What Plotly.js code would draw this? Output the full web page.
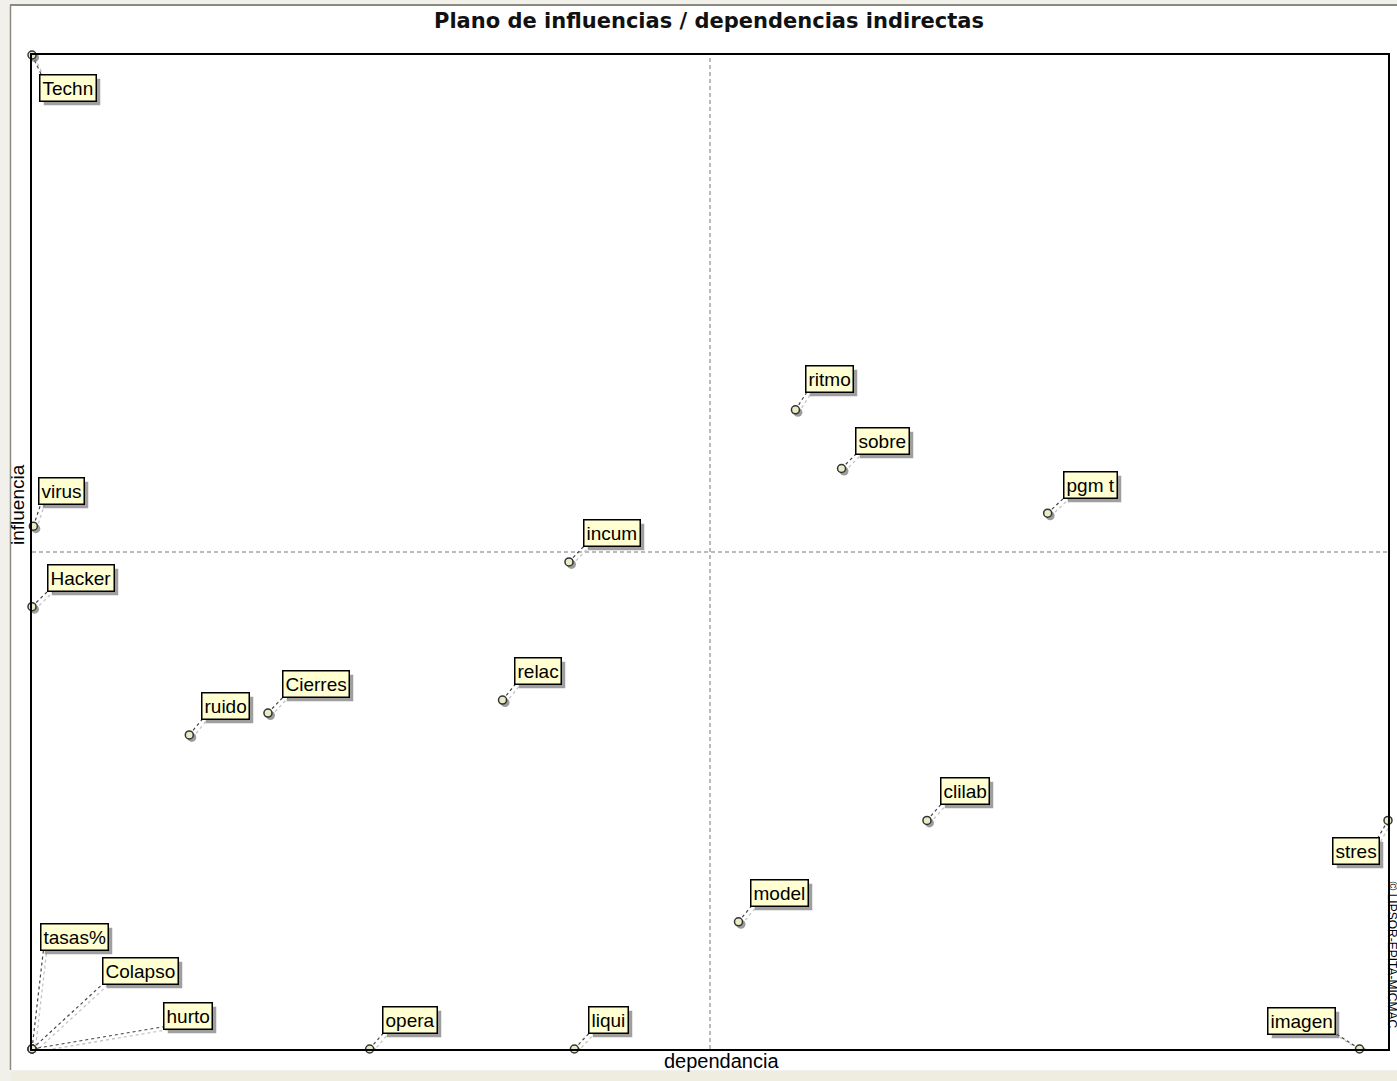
<!DOCTYPE html>
<html>
<head>
<meta charset="utf-8">
<script src="https://cdn.plot.ly/plotly-3.0.1.min.js"></script>
<style>html,body{margin:0;padding:0;background:#fff;}#chart{width:1397px;height:1081px;}</style>
</head>
<body>
<div id="chart"></div>
<script>
// Data: dependance (x) and influence (y), 0..100 scale
const names = ["Techn","virus","Hacker","ruido","Cierres","relac","incum","ritmo","sobre","pgm t","clilab","model","stres","imagen","liqui","opera","tasas%","Colapso","hurto"];
const dependencia = [0, 0.1, 0, 11.6, 17.4, 34.7, 39.6, 56.3, 59.7, 74.9, 66.0, 52.1, 100, 97.9, 40.0, 24.9, 0, 0, 0];
const influencia = [100, 52.6, 44.5, 31.6, 33.8, 35.1, 49.0, 64.3, 58.4, 53.9, 23.0, 12.8, 23.0, 0, 0, 0, 0, 0, 0];
// label placement offsets (pixels) relative to each point
const labelDx = [36, 28.5, 49, 36.5, 48, 35.5, 43, 34, 41, 42.5, 38.5, 41.5, -32, -58.5, 34, 40, 42.5, 108.5, 155.5];
const labelDy = [33, -35.5, -28.5, -28.5, -29, -29.5, -28.5, -30.5, -27.5, -28, -29.5, -28.5, 30.5, -28, -29, -29.5, -112, -78, -33];

const W = 1397, H = 1081;
const mL = 32, mR = 9, mT = 55, mB = 32;
const pw = W - mL - mR, ph = H - mT - mB;
const px = v => (v - mL) / pw;
const py = v => (H - mB - v) / ph;

const FONT = "Liberation Sans, Arial, sans-serif";

const annotations = [];
const shapes = [];

// background frame pieces
shapes.push({type:'rect', xref:'paper', yref:'paper', x0:px(0), x1:px(W), y0:py(0), y1:py(H), fillcolor:'#f1f0ea', line:{width:0}, layer:'below'});
shapes.push({type:'rect', xref:'paper', yref:'paper', x0:px(11), x1:px(W), y0:py(6), y1:py(1070), fillcolor:'#ffffff', line:{width:0}, layer:'below'});
shapes.push({type:'line', xref:'paper', yref:'paper', x0:px(10), x1:px(W), y0:py(5), y1:py(5), line:{color:'#8a8a80', width:2}, layer:'below'});
shapes.push({type:'line', xref:'paper', yref:'paper', x0:px(10.5), x1:px(10.5), y0:py(5), y1:py(1070), line:{color:'#8a8a80', width:1.5}, layer:'below'});
shapes.push({type:'rect', xref:'paper', yref:'paper', x0:px(11), x1:px(W), y0:py(1071), y1:py(H), fillcolor:'#efece0', line:{width:0}, layer:'below'});

// midlines
shapes.push({type:'line', xref:'x', yref:'paper', x0:50, x1:50, y0:0, y1:1, line:{color:'#777', width:1, dash:'4px,3px'}, layer:'below'});
shapes.push({type:'line', xref:'paper', yref:'y', x0:0, x1:1, y0:50, y1:50, line:{color:'#777', width:1, dash:'4px,3px'}, layer:'below'});

// labels
for (let i = 0; i < names.length; i++) {
  annotations.push({x: dependencia[i], y: influencia[i], xref:'x', yref:'y',
    ax: labelDx[i], ay: labelDy[i], axref:'pixel', ayref:'pixel',
    showarrow:true, arrowwidth:0.1, arrowcolor:'rgba(0,0,0,0)',
    text: names[i], font:{family:FONT, size:19, color:'#000'},
    bgcolor:'#ffffd2', borderpad:2, borderwidth:1.5, bordercolor:'#000'});
}

// title, axis labels, copyright
annotations.push({xref:'paper', yref:'paper', x:px(709), y:py(21), text:'<b>Plano de influencias / dependencias indirectas</b>', showarrow:false, font:{family:"DejaVu Sans, sans-serif", size:21, color:'#111'}, xanchor:'center', yanchor:'middle'});
annotations.push({xref:'paper', yref:'paper', x:px(721), y:py(1061), text:'dependancia', showarrow:false, font:{family:FONT, size:20, color:'#000'}, xanchor:'center', yanchor:'middle'});
annotations.push({xref:'paper', yref:'paper', x:px(18), y:py(505), text:'influencia', textangle:-90, showarrow:false, font:{family:FONT, size:19, color:'#000'}, xanchor:'center', yanchor:'middle'});
annotations.push({xref:'paper', yref:'paper', x:px(1391.5), y:py(955), text:'© LIPSOR-EPITA-MICMAC', textangle:90, showarrow:false, font:{family:FONT, size:12, color:'#000'}, xanchor:'center', yanchor:'middle'});

const trace = {
  x: dependencia, y: influencia, type:'scatter', mode:'markers', text: names, hoverinfo:'text',
  marker:{size:8, color:'#ecebc8', line:{color:'#333', width:1.5}},
  cliponaxis:false
};

const layout = {
  width: W, height: H,
  margin:{l:mL, r:mR, t:mT, b:mB, pad:0},
  paper_bgcolor:'#ffffff', plot_bgcolor:'#ffffff',
  showlegend:false,
  xaxis:{range:[0,100], showgrid:false, zeroline:false, showticklabels:false, ticks:'', showline:true, mirror:true, linecolor:'#000', linewidth:2, fixedrange:true},
  yaxis:{range:[0,100], showgrid:false, zeroline:false, showticklabels:false, ticks:'', showline:true, mirror:true, linecolor:'#000', linewidth:2, fixedrange:true},
  shapes: shapes,
  annotations: annotations
};

const gd = document.getElementById('chart');
Plotly.newPlot(gd, [trace], layout, {displayModeBar:false, staticPlot:true}).then(() => {
  const fl = gd._fullLayout;
  const xa = fl.xaxis, ya = fl.yaxis;
  const root = gd.getBoundingClientRect();
  const extra = [];
  const toPX = v => (v - fl._size.l) / fl._size.w;
  const toPY = v => (fl._size.t + fl._size.h - v) / fl._size.h;
  gd.querySelectorAll('g.annotation').forEach(g => {
    const idx = +g.getAttribute('data-index');
    if (!(idx < names.length)) return;
    const bg = g.querySelector('rect.bg');
    if (!bg) return;
    const r = bg.getBoundingClientRect();
    const L = r.left - root.left, R = r.right - root.left, T = r.top - root.top, B = r.bottom - root.top;
    const ppx = xa._offset + xa.l2p(dependencia[idx]);
    const ppy = ya._offset + ya.l2p(influencia[idx]);
    const corners = [[L,T],[R,T],[L,B],[R,B]];
    let best = corners[0], bd = 1e9;
    corners.forEach(c => { const d = Math.hypot(c[0]-ppx, c[1]-ppy); if (d < bd) { bd = d; best = c; } });
    const cx = best[0] + (best[0] === L ? 3 : -3);
    const cy = best[1] + (best[1] === T ? 3 : -3);
    extra.push({type:'line', xref:'x', yref:'y', xsizemode:'pixel', ysizemode:'pixel',
      xanchor: dependencia[idx], yanchor: influencia[idx],
      x0: 3, y0: -3, x1: cx - ppx + 3, y1: ppy - cy - 3,
      line:{color:'#c4c4c4', width:1.3, dash:'dot'}, layer:'below'});
    extra.push({type:'line', xref:'x', yref:'y', xsizemode:'pixel', ysizemode:'pixel',
      xanchor: dependencia[idx], yanchor: influencia[idx],
      x0: 0, y0: 0, x1: cx - ppx, y1: ppy - cy,
      line:{color:'#444', width:1.2, dash:'dot'}, layer:'below'});
    extra.push({type:'circle', xref:'x', yref:'y', xsizemode:'pixel', ysizemode:'pixel',
      xanchor: dependencia[idx], yanchor: influencia[idx],
      x0: -2, x1: 7, y0: -7, y1: 2,
      fillcolor:'rgba(90,90,90,0.6)', line:{width:0}, layer:'below'});
    extra.push({type:'rect', xref:'paper', yref:'paper',
      x0: toPX(L + 4), x1: toPX(R + 4), y0: toPY(B + 4), y1: toPY(T + 4),
      fillcolor:'rgba(80,80,80,0.55)', line:{width:0}, layer:'above'});
  });
  return Plotly.relayout(gd, {shapes: shapes.concat(extra)});
});
</script>
</body>
</html>
